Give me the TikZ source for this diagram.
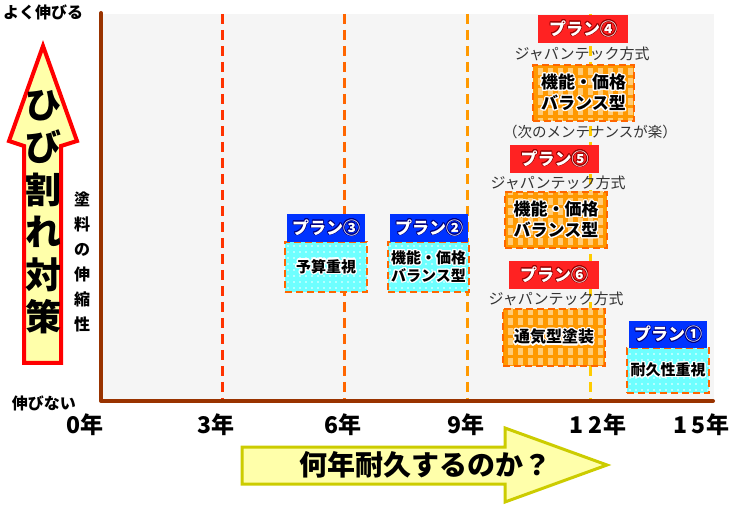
\documentclass[tikz,border=0pt]{standalone}
\usepackage{fontspec}
\newfontfamily\jp{Noto Sans CJK JP}
\usepackage{contour}
\usetikzlibrary{patterns.meta}
\definecolor{axisbrown}{RGB}{153,51,0}
\definecolor{planblue}{RGB}{0,51,255}
\definecolor{planred}{RGB}{255,34,34}
\definecolor{cyanbox}{RGB}{110,255,255}
\definecolor{stripeA}{RGB}{255,153,0}
\definecolor{stripeB}{RGB}{255,204,119}
\definecolor{dashorange}{RGB}{255,102,0}
\definecolor{paleyellow}{RGB}{255,255,170}
\definecolor{arrowolive}{RGB}{204,204,0}
\definecolor{yrA}{RGB}{255,51,0}
\definecolor{yrB}{RGB}{255,102,0}
\definecolor{yrC}{RGB}{255,153,0}
\definecolor{yrD}{RGB}{255,204,0}
\newcommand\halo[1]{\contourlength{1.3pt}\contour{white}{#1}}
\newcommand\rim[2]{\contourlength{0.7pt}\contour{#1}{#2}}
\begin{document}
\begin{tikzpicture}[x=1pt,y=1pt,yscale=-1,
  header/.style={minimum height=28pt,inner sep=0pt,text=white,font=\jp\bfseries\fontsize{17}{17}\selectfont},
  bodybox/.style={draw=dashorange,line width=2pt,dash pattern=on 7pt off 4pt,inner sep=0pt,align=center},
  dotbox/.style={bodybox,preaction={fill=cyanbox},pattern={Dots[distance=6pt,radius=0.8pt]},pattern color=white,font=\jp\bfseries\fontsize{15}{18}\selectfont},
  stripebox/.style={bodybox,preaction={fill=stripeA},pattern={Lines[angle=90,distance=10pt,line width=5pt]},pattern color=stripeB,font=\jp\bfseries\fontsize{17}{21}\selectfont},
  method/.style={inner sep=0pt,text=black!80,font=\jp\fontsize{15}{15}\selectfont},
  ticklab/.style={inner sep=0pt,font=\jp\bfseries\fontsize{23}{23}\selectfont}]
\useasboundingbox (0,0) rectangle (731,510);
% plot area and year lines
\fill[black!4] (102,14) rectangle (714,399);
\foreach \xx/\cc in {222/yrA,344/yrB,467/yrC,590/yrD}
  \draw[\cc,line width=3pt,dash pattern=on 10pt off 6pt] (\xx,14) -- (\xx,399);
\draw[axisbrown,line width=4pt,line cap=round,line join=round] (101,13) -- (101,401) -- (713,401);
% vertical arrow
\draw[red,line width=4pt,fill=paleyellow,line join=miter] (43,46) -- (77,141) -- (61,146) -- (61,363) -- (24,363) -- (24,146) -- (9,141) -- cycle;
\draw (43,212) node (crack) [inner sep=0pt,align=center,font=\jp\bfseries\fontsize{36}{42.5}\selectfont] {ひ\\び\\割\\れ\\対\\策};
\draw (82,262) node (stretch) [inner sep=0pt,align=center,font=\jp\bfseries\fontsize{16}{25}\selectfont] {塗\\料\\の\\伸\\縮\\性};
\draw (43,12) node (hi) [inner sep=0pt,font=\jp\bfseries\fontsize{16}{16}\selectfont] {よく伸びる};
\draw (44,403) node (lo) [inner sep=0pt,font=\jp\bfseries\fontsize{16}{16}\selectfont] {伸びない};
% year labels
\draw (85,425) node (y0) [ticklab] {0年};
\draw (216,425) node (y3) [ticklab] {3年};
\draw (343,425) node (y6) [ticklab] {6年};
\draw (466,425) node (y9) [ticklab] {9年};
\draw (598,425) node (y12) [ticklab] {1\hspace{5pt}2年};
\draw (701,425) node (y15) [ticklab] {1\hspace{5pt}5年};
% horizontal arrow
\draw[arrowolive,line width=3pt,fill=paleyellow,line join=miter] (242,447) -- (505,447) -- (505,428) -- (607,465) -- (505,502) -- (505,484) -- (242,484) -- cycle;
\draw (425,465) node (years) [inner sep=0pt,font=\jp\bfseries\fontsize{28}{28}\selectfont] {何年耐久するのか？};
% plans
\draw (326,267) node (b3) [dotbox,minimum width=82pt,minimum height=50pt] {\halo{予算重視}};
\draw (326,228) node (h3) [header,fill=planblue,minimum width=78pt] {\rim{blue!50!black}{プラン③}};
\draw (428.5,267) node (b2) [dotbox,minimum width=81pt,minimum height=50pt] {\halo{機能・価格}\\\halo{バランス型}};
\draw (429,228) node (h2) [header,fill=planblue,minimum width=78pt] {\rim{blue!50!black}{プラン②}};
\draw (583,29) node (h4) [header,fill=planred,minimum width=90pt] {\rim{red!60!black}{プラン④}};
\draw (582,54) node (m4) [method] {ジャパンテック方式};
\draw (583.5,93) node (b4) [stripebox,minimum width=101pt,minimum height=56pt] {\halo{機能・価格}\\\halo{バランス型}};
\draw (590,132) node (n4) [method,font=\jp\fontsize{14.5}{14.5}\selectfont] {（次のメンテナンスが楽）};
\draw (554.5,159) node (h5) [header,fill=planred,minimum width=89pt] {\rim{red!60!black}{プラン⑤}};
\draw (558,183) node (m5) [method] {ジャパンテック方式};
\draw (556,220) node (b5) [stripebox,minimum width=102pt,minimum height=56pt] {\halo{機能・価格}\\\halo{バランス型}};
\draw (554,275) node (h6) [header,fill=planred,minimum width=90pt] {\rim{red!60!black}{プラン⑥}};
\draw (556,299) node (m6) [method] {ジャパンテック方式};
\draw (554,337.5) node (b6) [stripebox,minimum width=102pt,minimum height=57pt,font=\jp\bfseries\fontsize{16}{16}\selectfont] {\halo{通気型塗装}};
\draw (668,370.5) node (b1) [dotbox,minimum width=82pt,minimum height=45pt] {\halo{耐久性重視}};
\draw (668,334.5) node (h1) [header,fill=planblue,minimum width=78pt,minimum height=27pt] {\rim{blue!50!black}{プラン①}};
\end{tikzpicture}
\end{document}
